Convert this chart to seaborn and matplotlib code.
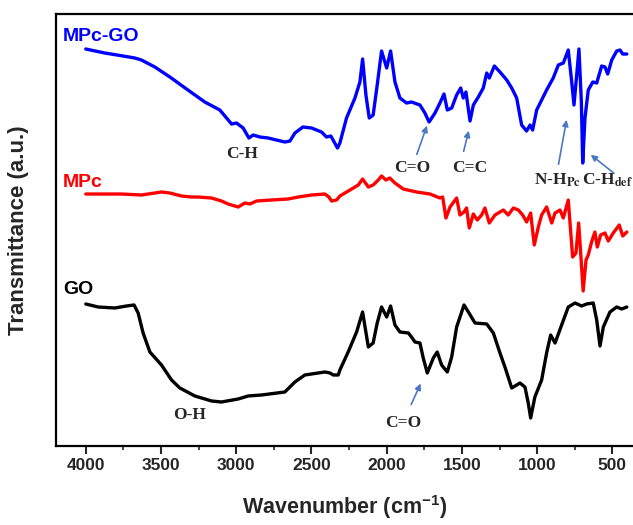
import pandas as pd
import matplotlib.pyplot as plt
import seaborn as sns
from matplotlib.ticker import MultipleLocator

# FTIR data (wavenumber in cm-1, transmittance in a.u.)
mpcgo_wn = [4000, 3874, 3752, 3674, 3630, 3541, 3441, 3321, 3209, 3109, 3031, 2998, 2954, 2916,
            2887, 2843, 2788, 2677, 2643, 2610, 2557, 2499, 2433, 2400, 2371, 2327, 2311, 2267,
            2211, 2178, 2160, 2138, 2116, 2090, 2063, 2034, 2000, 1974, 1945, 1912, 1868, 1835,
            1779, 1746, 1718, 1679, 1646, 1619, 1597, 1568, 1535, 1508, 1491, 1473, 1446, 1424,
            1391, 1358, 1335, 1318, 1284, 1247, 1202, 1169, 1136, 1103, 1070, 1047, 1030, 1003,
            970, 937, 893, 859, 826, 793, 770, 755, 737, 722, 706, 697, 682, 660, 630, 604, 571,
            549, 531, 504, 471, 449, 431, 404]
mpcgo_t = [397, 393, 390, 388, 386, 379, 369, 356, 344, 336, 322, 323, 318, 308,
           311, 309, 308, 304, 305, 313, 319, 318, 314, 309, 310, 298, 303, 328,
           348, 364, 387, 351, 328, 331, 361, 395, 378, 395, 364, 348, 343, 344,
           341, 333, 324, 333, 343, 352, 336, 338, 351, 358, 348, 354, 325, 341,
           349, 358, 373, 368, 380, 374, 366, 358, 348, 321, 315, 321, 316, 336,
           346, 356, 368, 381, 383, 396, 364, 341, 371, 397, 344, 283, 328, 356, 364, 363, 380,
           379, 372, 386, 395, 396, 392, 392]

mpc_wn = [4000, 3763, 3630, 3497, 3441, 3364, 3298, 3253, 3165, 3098, 3054, 2987, 2943, 2909,
          2865, 2766, 2655, 2588, 2499, 2411, 2384, 2366, 2333, 2311, 2244, 2189, 2160, 2122,
          2090, 2056, 2034, 2005, 1979, 1945, 1890, 1801, 1712, 1646, 1628, 1606, 1579, 1535,
          1513, 1486, 1469, 1451, 1424, 1398, 1369, 1347, 1318, 1280, 1225, 1192, 1158, 1125,
          1096, 1070, 1043, 1019, 992, 970, 937, 903, 881, 848, 826, 793, 764, 742, 724, 711,
          694, 675, 660, 638, 616, 600, 578, 549, 527, 494, 454, 431, 404]
mpc_t = [252, 252, 251, 254, 253, 250, 249, 249, 248, 245, 242, 239, 243, 242,
         245, 246, 247, 249, 251, 252, 249, 245, 246, 250, 256, 261, 267, 259,
         261, 266, 270, 266, 268, 263, 257, 254, 252, 248, 249, 228, 239, 248,
         231, 234, 238, 218, 232, 226, 231, 238, 223, 231, 236, 231, 238, 236,
         231, 224, 233, 201, 219, 231, 239, 223, 233, 236, 228, 246, 189, 193, 223, 194,
         155, 186, 191, 204, 214, 199, 211, 213, 205, 213, 221, 210, 214]

go_wn = [4000, 3918, 3807, 3730, 3679, 3652, 3619, 3574, 3497, 3430, 3375, 3275, 3164, 3098,
         2987, 2921, 2832, 2677, 2610, 2544, 2455, 2411, 2377, 2355, 2322, 2311, 2256, 2200,
         2160, 2122, 2090, 2063, 2034, 2000, 1974, 1945, 1912, 1856, 1835, 1812, 1779, 1757,
         1730, 1690, 1664, 1635, 1597, 1568, 1535, 1486, 1457, 1413, 1335, 1291, 1247, 1214,
         1169, 1114, 1081, 1059, 1043, 1015, 970, 937, 910, 881, 837, 793, 748, 704, 671, 627,
         604, 582, 560, 516, 471, 438, 404]
go_t = [142, 139, 138, 140, 141, 133, 113, 94, 81, 66, 58, 50, 45, 44,
        47, 50, 51, 54, 64, 71, 73, 74, 73, 71, 71, 76, 94, 114,
        134, 99, 103, 123, 139, 129, 140, 121, 114, 113, 109, 104, 103, 88,
        73, 88, 94, 81, 74, 89, 119, 141, 134, 123, 122, 113, 93, 79,
        58, 63, 59, 43, 28, 49, 66, 93, 111, 103, 121, 139, 143, 140, 142, 143,
        126, 100, 119, 134, 139, 137, 139]

samples = ['MPc-GO', 'MPc', 'GO']
colors = ['#0000ff', '#ff0000', '#000000']


def main():
    df = pd.concat([
        pd.DataFrame({'wn': mpcgo_wn, 't': mpcgo_t, 'sample': 'MPc-GO'}),
        pd.DataFrame({'wn': mpc_wn, 't': mpc_t, 'sample': 'MPc'}),
        pd.DataFrame({'wn': go_wn, 't': go_t, 'sample': 'GO'}),
    ], ignore_index=True)

    sns.set_style('ticks')
    plt.rcParams['font.family'] = ['Liberation Sans', 'DejaVu Sans']
    plt.rcParams['mathtext.fontset'] = 'custom'
    plt.rcParams['mathtext.bf'] = 'Liberation Sans:bold'
    plt.rcParams['mathtext.rm'] = 'Liberation Sans:bold'

    fig = plt.figure(figsize=(6.33, 5.25), dpi=100)
    ax = fig.add_axes([0.088, 0.1505, 0.9136, 0.8228])

    sns.lineplot(data=df, x='wn', y='t', hue='sample', hue_order=samples,
                 palette=colors, sort=False, estimator=None, legend=False,
                 lw=2.4, ax=ax)

    ax.set_xlim(4200, 356)
    ax.set_ylim(0, 432)
    ax.xaxis.set_major_locator(MultipleLocator(500))
    ax.xaxis.set_minor_locator(MultipleLocator(250))
    ax.set_yticks([])
    ax.tick_params(axis='x', which='major', length=6, width=1.5, labelsize=12.5, pad=3)
    ax.tick_params(axis='x', which='minor', length=3, width=1.2)
    for lbl in ax.get_xticklabels():
        lbl.set_fontweight('bold')
    for sp in ax.spines.values():
        sp.set_linewidth(1.6)
        sp.set_color('black')

    ax.set_xlabel(r'Wavenumber (cm$^{\mathbf{-1}}$)', fontsize=15.5, fontweight='bold', labelpad=14)
    ax.set_ylabel('Transmittance (a.u.)', fontsize=16, fontweight='bold', labelpad=19)

    # sample names
    for name, col, y in zip(samples, colors, [410, 264, 156]):
        ax.text(4153, y, name, color=col, fontsize=14, fontweight='bold', ha='left', va='center')

    # band labels (serif bold)
    serif = dict(family=['Liberation Serif', 'DejaVu Serif'], fontweight='bold', fontsize=12.5)
    ax.text(2963, 292, 'C-H', ha='center', va='center', **serif)
    ax.text(1832, 278, 'C=O', ha='center', va='center', **serif)
    ax.text(1446, 278, 'C=C', ha='center', va='center', **serif)
    ax.text(1020, 266, r'N-H$_{\mathbf{Pc}}$', ha='left', va='center', math_fontfamily='stix', **serif)
    ax.text(700, 266, r'C-H$_{\mathbf{def}}$', ha='left', va='center', math_fontfamily='stix', **serif)
    ax.text(3308, 31, 'O-H', ha='center', va='center', **serif)
    ax.text(1892, 23, 'C=O', ha='center', va='center', **serif)

    arrow = dict(arrowstyle='-|>', color='#4a78c2', lw=1.2, mutation_scale=9)
    arrows = [((1806, 289), (1726, 323)), ((1493, 292), (1450, 318)),
              ((861, 279), (801, 329)), ((475, 271), (658, 293)),
              ((1845, 39), (1766, 65))]
    for tail, head in arrows:
        ax.annotate('', xy=head, xytext=tail, arrowprops=arrow)

    fig.savefig('out.png', dpi=100)


if __name__ == '__main__':
    main()
